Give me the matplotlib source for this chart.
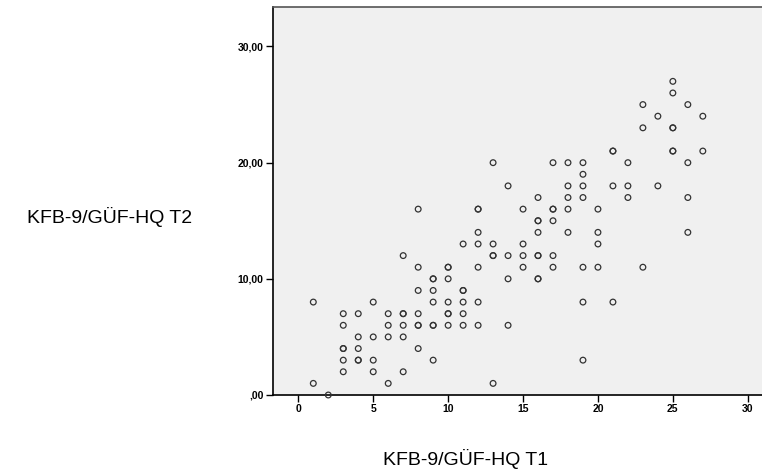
import matplotlib.pyplot as plt
from matplotlib.ticker import FuncFormatter

plt.rcParams['font.family'] = ['Liberation Sans', 'DejaVu Sans']

# KFB-9/GÜF-HQ scores at T1 (x) and T2 (y), one entry per case
t1 = [2,
      1, 6, 13,
      3, 5, 7,
      3, 4, 4, 5, 9, 19,
      3, 3, 4, 8,
      4, 5, 6, 7,
      3, 6, 7, 8, 8, 9, 9, 10, 11, 12, 14,
      3, 4, 6, 7, 7, 8, 10, 10, 11,
      1, 5, 9, 10, 11, 12, 19, 21,
      8, 9, 11, 11,
      9, 9, 10, 14, 16, 16,
      8, 10, 10, 12, 15, 17, 19, 20, 23,
      7, 13, 13, 14, 15, 16, 16, 17,
      11, 12, 13, 15, 20,
      12, 16, 18, 20, 26,
      16, 16, 17,
      8, 12, 12, 15, 17, 17, 18, 20,
      16, 18, 19, 22, 26,
      14, 18, 19, 21, 22, 24,
      19,
      13, 17, 18, 19, 22, 26,
      21, 21, 25, 25, 27,
      23, 25, 25,
      24, 27,
      23, 26,
      25,
      25]
t2 = ([0] * 1 + [1] * 3 + [2] * 3 + [3] * 6 + [4] * 4 + [5] * 4 + [6] * 11
      + [7] * 9 + [8] * 8 + [9] * 4 + [10] * 6 + [11] * 9 + [12] * 8
      + [13] * 5 + [14] * 5 + [15] * 3 + [16] * 8 + [17] * 5 + [18] * 6
      + [19] * 1 + [20] * 6 + [21] * 5 + [23] * 3 + [24] * 2 + [25] * 2
      + [26] * 1 + [27] * 1)

x_ticks = [0, 5, 10, 15, 20, 25, 30]
y_ticks = [0, 10, 20, 30]

fig = plt.figure(figsize=(7.62, 4.72), dpi=100)
ax = fig.add_axes([272.7 / 762, 77 / 472, 1 - 272.7 / 762, 388 / 472])
ax.set_facecolor('#f0f0f0')

ax.scatter(t1, t2, s=17, facecolors='none', edgecolors='#333333',
           linewidths=0.9, clip_on=False, zorder=3)

ax.set_xlim(-1.71, 30.95)
ax.set_ylim(0, 33.4)
ax.set_xticks(x_ticks)
ax.set_yticks(y_ticks)


def comma_fmt(v, pos):
    s = '%.2f' % v
    s = s.replace('.', ',')
    if s.startswith('0,'):
        s = s[1:]
    return s


ax.yaxis.set_major_formatter(FuncFormatter(comma_fmt))
ax.tick_params(axis='both', direction='out', length=5, width=1,
               labelsize=7.5, pad=1.5, colors='black')
for lbl in ax.get_xticklabels() + ax.get_yticklabels():
    lbl.set_fontweight('bold')

ax.spines['right'].set_visible(False)
ax.spines['top'].set_color('#555555')
ax.spines['top'].set_linewidth(1.2)
ax.spines['left'].set_linewidth(1.2)
ax.spines['bottom'].set_linewidth(1.2)

fig.text(192 / 762, 1 - 217 / 472, 'KFB-9/GÜF-HQ T2', fontsize=14,
         ha='right', va='center')
fig.text(548 / 762, 1 - 459 / 472, 'KFB-9/GÜF-HQ T1', fontsize=14,
         ha='right', va='center')

fig.savefig('out.png', dpi=100)
